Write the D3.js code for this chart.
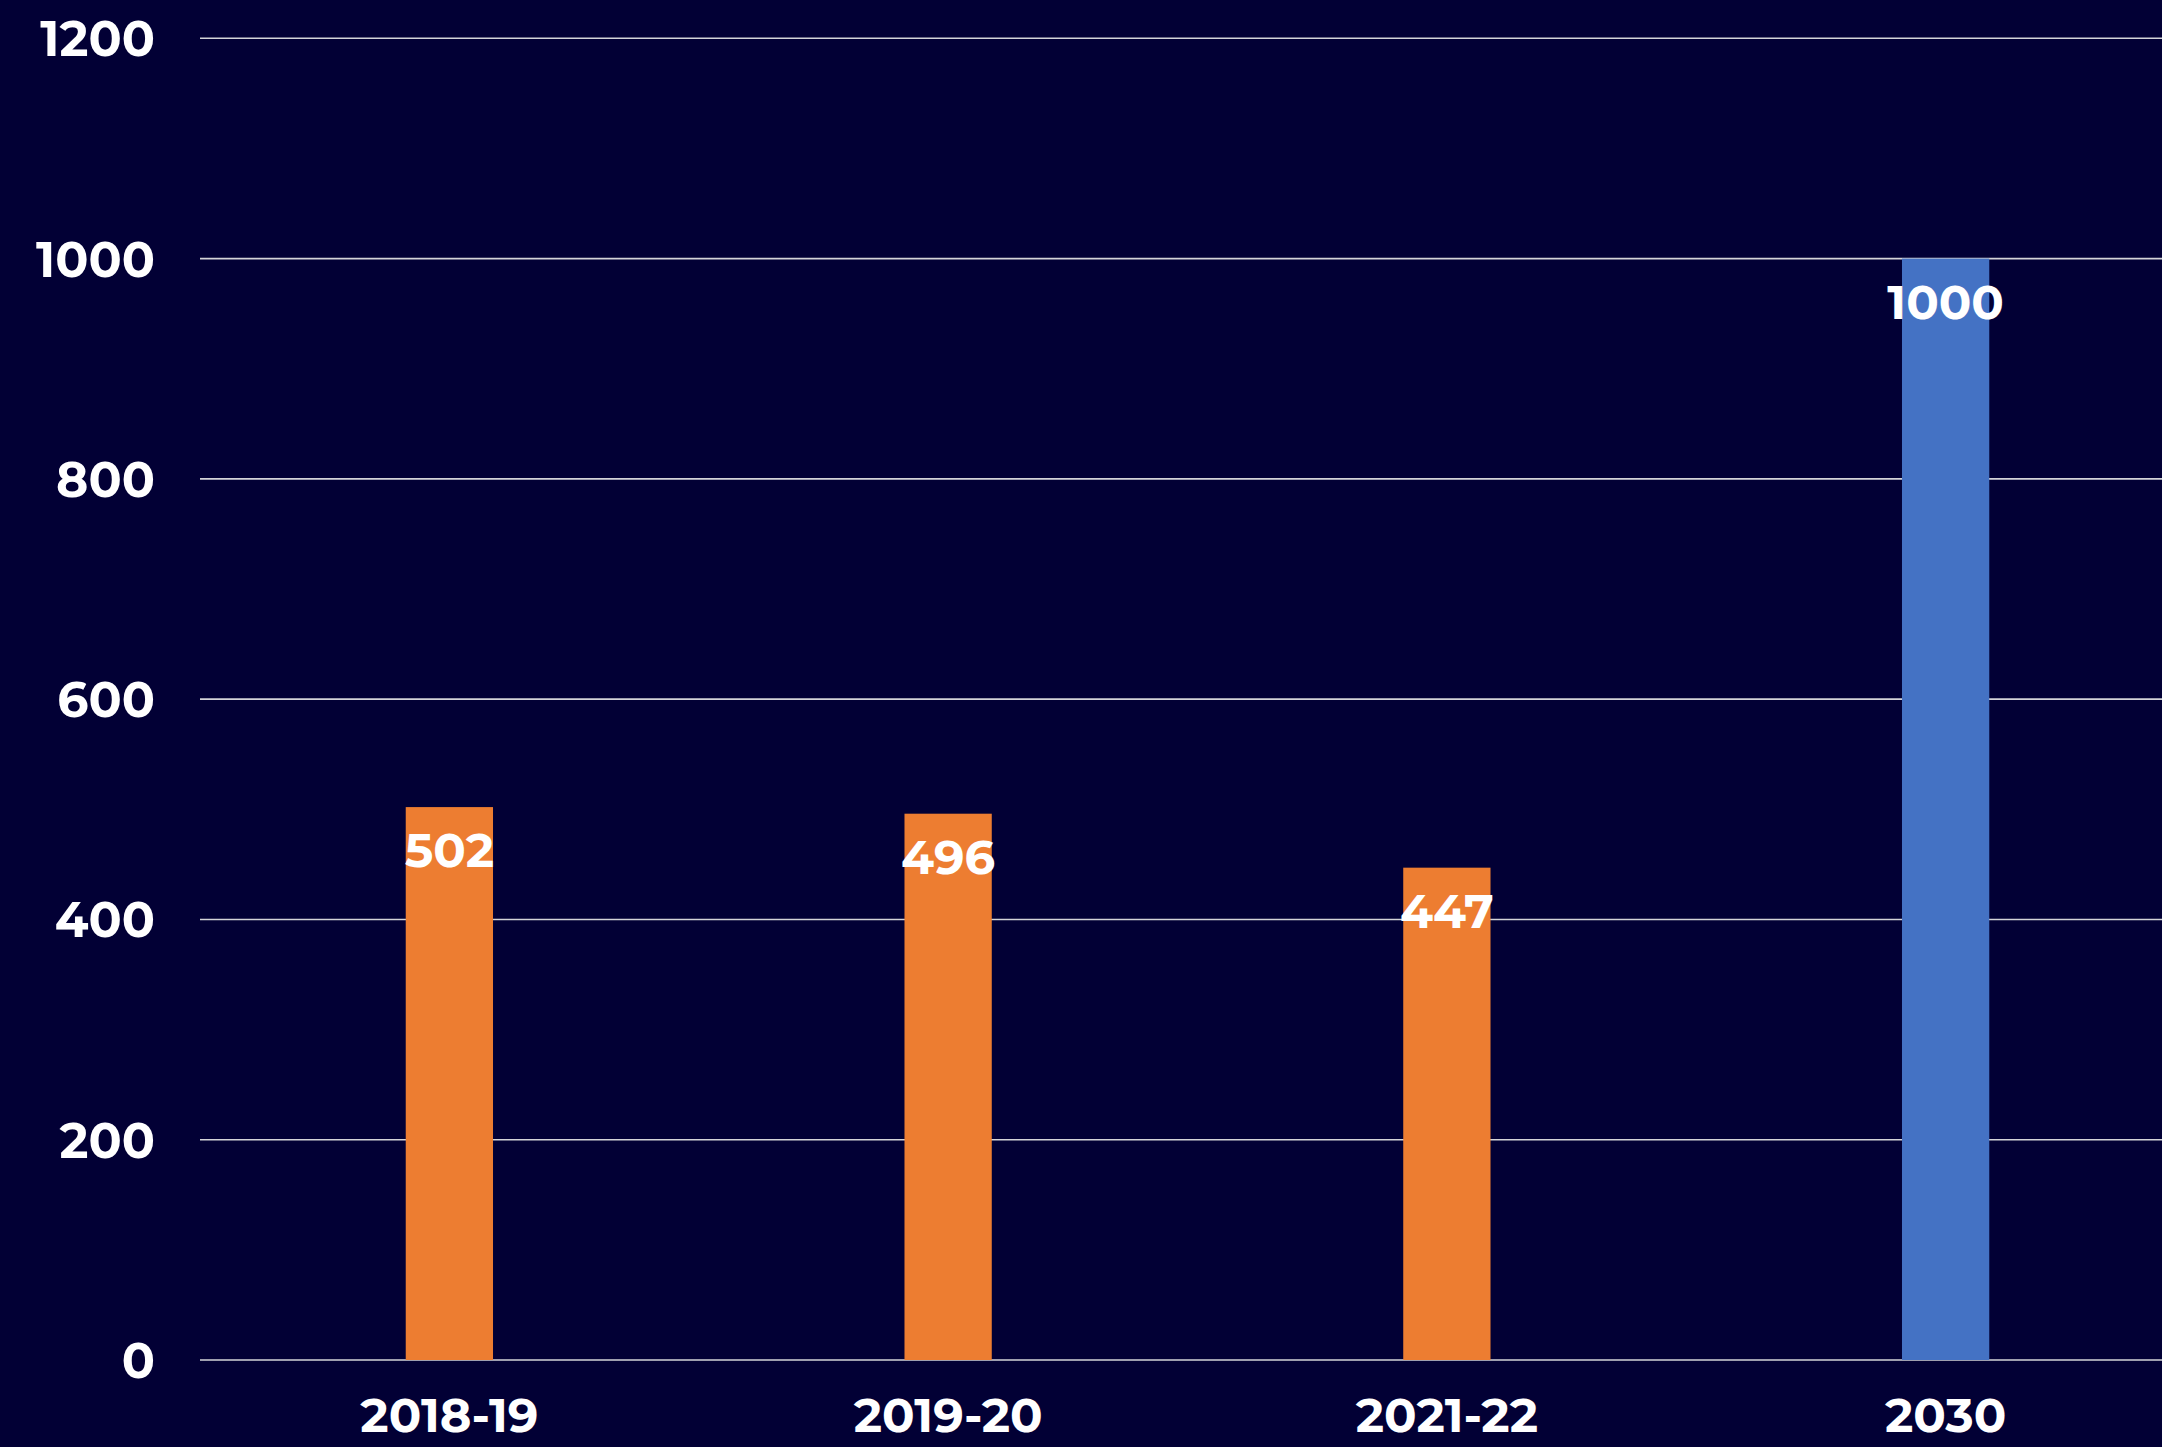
<!DOCTYPE html>
<html lang="en">
<head>
<meta charset="UTF-8">
<title>Bar chart</title>
<script src="https://d3js.org/d3.v7.min.js"></script>
<style>
  html, body { margin: 0; padding: 0; background: #020035; overflow: hidden; }
  svg { display: block; }
  text { font-family: Montserrat, "Open Sans", sans-serif; font-weight: 700; fill: #fff; }
</style>
</head>
<body>
<svg width="2162" height="1447"></svg>
<script>
// data
const categories = ["2018-19", "2019-20", "2021-22", "2030"];
const values = [502, 496, 447, 1000];
const barColors = ["#ED7D31", "#ED7D31", "#ED7D31", "#4472C4"];
const yTicks = [0, 200, 400, 600, 800, 1000, 1200];

const svg = d3.select("svg");
const width = 2162, height = 1447;
const plotLeft = 200, plotTop = 38.3, plotBottom = 1360;

// the band range runs past the right edge, so the last band is cut off
let x = d3.scaleBand().domain(categories).range([plotLeft, 2195]).padding(0);
let y = d3.scaleLinear().domain([0, 1200]).range([plotBottom, plotTop]);
const barW = x.bandwidth() * 0.175;

// gridlines
svg.append("g")
  .selectAll("line").data(yTicks).enter().append("line")
  .attr("x1", plotLeft).attr("x2", width)
  .attr("y1", d => y(d)).attr("y2", d => y(d))
  .attr("stroke", "#d4d4d8").attr("stroke-width", 1.6);

// y tick labels
svg.append("g")
  .selectAll("text").data(yTicks).enter().append("text")
  .attr("x", 155).attr("y", d => y(d) + 18)
  .attr("text-anchor", "end")
  .attr("font-size", 49)
  .text(d => d);

// bars
let data = categories.map((c, i) => ({ cat: c, val: values[i], color: barColors[i] }));
svg.append("g")
  .selectAll("rect").data(data).enter().append("rect")
  .attr("x", d => x(d.cat) + x.bandwidth() / 2 - barW / 2)
  .attr("width", barW)
  .attr("y", d => y(d.val))
  .attr("height", d => y(0) - y(d.val))
  .attr("fill", d => d.color);

// value labels
svg.append("g")
  .selectAll("text").data(data).enter().append("text")
  .attr("x", d => x(d.cat) + x.bandwidth() / 2)
  .attr("y", d => y(d.val) + 60)
  .attr("text-anchor", "middle")
  .attr("font-size", 48)
  .text(d => d.val);

// category labels
svg.append("g")
  .selectAll("text").data(categories).enter().append("text")
  .attr("x", d => x(d) + x.bandwidth() / 2)
  .attr("y", 1432)
  .attr("text-anchor", "middle")
  .attr("font-size", 48)
  .text(d => d);
</script>
</body>
</html>
